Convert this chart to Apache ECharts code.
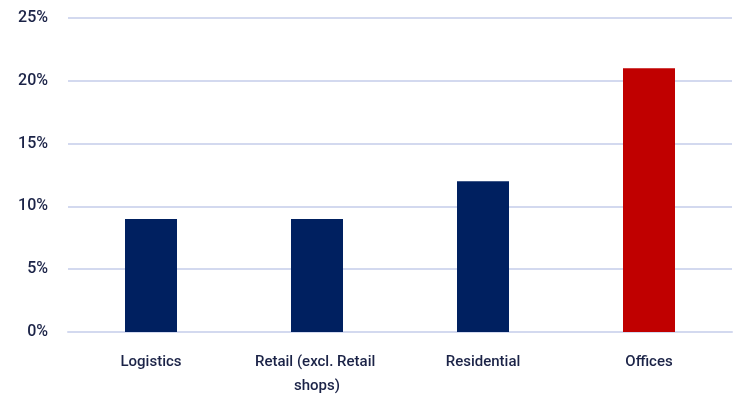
<!DOCTYPE html>
<html>
<head>
<meta charset="utf-8">
<script src="https://cdn.jsdelivr.net/npm/echarts@6/dist/echarts.min.js"></script>
<style>
  html, body { margin: 0; padding: 0; background: #ffffff; }
  #chart { width: 742px; height: 394px; }
</style>
</head>
<body>
<div id="chart"></div>
<script>
// Sector categories and their shares (%)
const categories = ['Logistics', 'Retail (excl. Retail shops)', 'Residential', 'Offices'];
const shares = [9, 9, 12, 21];
const barColors = ['#002060', '#002060', '#002060', '#c00000'];

const textColor = '#1b2347';
const gridColor = '#d3d9ef';
const fontFamily = '"Roboto", "Liberation Sans", sans-serif';

const chart = echarts.init(document.getElementById('chart'));
chart.setOption({
  animation: false,
  grid: { left: 68, right: 10, top: 18, bottom: 62, outerBoundsMode: 'none', containLabel: false },
  xAxis: {
    type: 'category',
    data: categories,
    axisLine: { show: true, lineStyle: { color: gridColor, width: 2 } },
    axisTick: { show: false },
    axisLabel: {
      color: textColor,
      fontSize: 15,
      fontWeight: 500,
      fontFamily: fontFamily,
      margin: 18,
      width: 150,
      overflow: 'break',
      lineHeight: 24,
      interval: 0
    }
  },
  yAxis: {
    type: 'value',
    min: 0,
    max: 25,
    interval: 5,
    axisLine: { show: false },
    axisTick: { show: false },
    splitLine: { lineStyle: { color: gridColor, width: 2 } },
    axisLabel: {
      color: textColor,
      fontSize: 16,
      fontWeight: 500,
      fontFamily: fontFamily,
      margin: 20,
      formatter: '{value}%'
    }
  },
  series: [{
    type: 'bar',
    barWidth: 52,
    data: shares.map((v, i) => ({ value: v, itemStyle: { color: barColors[i] } }))
  }]
});
</script>
</body>
</html>
